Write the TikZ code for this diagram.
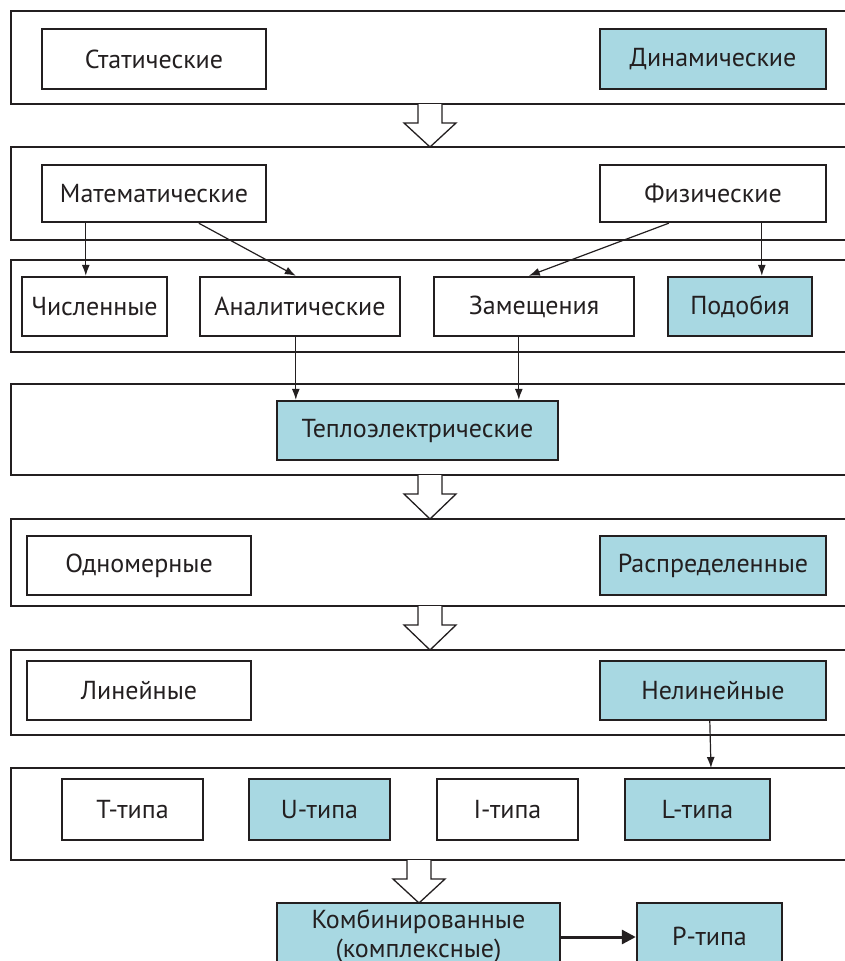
\documentclass[tikz,border=0pt]{standalone}
\usepackage{fontspec}
\setmainfont{PT Sans}
\usetikzlibrary{arrows.meta,calc}
\definecolor{boxblue}{RGB}{168,216,226}
\definecolor{ink}{RGB}{35,31,32}
\tikzset{
  band/.style={draw=ink, line width=1.2pt, anchor=north west, minimum width=849pt, inner sep=0pt, outer sep=0pt},
  box/.style={draw=ink, line width=2.4pt, inner sep=0pt, align=center, font=\fontsize{26pt}{29pt}\selectfont, text=ink},
  bluebox/.style={box, fill=boxblue},
  conn/.style={draw=ink, line width=1.2pt, -{Latex[length=11pt,width=8pt]}},
  hollow/.style={draw=ink, line width=1.3pt, fill=white, line join=miter},
}
\newcommand{\hollowarrow}[3]{%
  \draw[hollow] (#1-12,#2) -- (#1-12,#2+19) -- (#1-26,#2+19) -- (#1,#3) -- (#1+26,#2+19) -- (#1+12,#2+19) -- (#1+12,#2);}
\begin{document}
\begin{tikzpicture}[x=1pt,y=-1pt]
\useasboundingbox (0,0) rectangle (844,961);
% bands
\node[band, minimum height=93pt] (b1) at (11,11) {};
\node[band, minimum height=93pt] (b2) at (11,147) {};
\node[band, minimum height=92pt] (b3) at (11,260) {};
\node[band, minimum height=91pt] (b4) at (11,384) {};
\node[band, minimum height=87pt] (b5) at (11,519) {};
\node[band, minimum height=85pt] (b6) at (11,650) {};
\node[band, minimum height=92pt] (b7) at (11,768) {};
% hollow arrows
\hollowarrow{430}{104}{147}
\hollowarrow{430}{475}{519}
\hollowarrow{430}{606}{650}
\hollowarrow{419}{860}{903}
% boxes
\node[box, minimum width=224pt, minimum height=60pt] (stat) at (154,59) {Статические};
\node[bluebox, minimum width=226pt, minimum height=60pt] (dyn) at (713,59) {Динамические};
\node[box, minimum width=224pt, minimum height=57pt] (mat) at (154,193.5) {Математические};
\node[box, minimum width=226pt, minimum height=57pt] (phys) at (713,193.5) {Физические};
\node[box, minimum width=145pt, minimum height=59pt] (num) at (94.5,306.5) {Численные};
\node[box, minimum width=200pt, minimum height=59pt] (anal) at (300,306.5) {Аналитические};
\node[box, minimum width=200pt, minimum height=59pt] (zam) at (534,306.5) {Замещения};
\node[bluebox, minimum width=144pt, minimum height=59pt] (pod) at (740,306.5) {Подобия};
\node[bluebox, minimum width=281pt, minimum height=59pt] (teplo) at (417.5,430.5) {Теплоэлектрические};
\node[box, minimum width=224pt, minimum height=59pt] (odn) at (139,565.5) {Одномерные};
\node[bluebox, minimum width=226pt, minimum height=59pt] (rasp) at (713,565.5) {Распределенные};
\node[box, minimum width=224pt, minimum height=59pt] (lin) at (139,690.5) {Линейные};
\node[bluebox, minimum width=226pt, minimum height=59pt] (nelin) at (713,690.5) {Нелинейные};
\node[box, minimum width=141pt, minimum height=61pt] (T) at (132.5,809.5) {Т-типа};
\node[bluebox, minimum width=141pt, minimum height=61pt] (U) at (319.5,809.5) {U-типа};
\node[box, minimum width=141pt, minimum height=61pt] (I) at (507.5,809.5) {I-типа};
\node[bluebox, minimum width=145pt, minimum height=61pt] (L) at (697.5,809.5) {L-типа};
\node[bluebox, minimum width=283pt, minimum height=66pt] (komb) at (418.5,936) {Комбинированные\\(комплексные)};
\node[bluebox, minimum width=145pt, minimum height=66pt] (P) at (709.5,936) {Р-типа};
% connectors
\draw[conn] ([xshift=45pt]mat.south west) -- ([xshift=65pt]num.north west);
\draw[conn] ([xshift=158pt]mat.south west) -- ([xshift=97pt]anal.north west);
\draw[conn] ([xshift=70pt]phys.south west) -- ([xshift=96pt]zam.north west);
\draw[conn] ([xshift=163pt]phys.south west) -- ([xshift=95pt]pod.north west);
\draw[conn] ([xshift=97pt]anal.south west) -- ([xshift=20pt]teplo.north west);
\draw[conn] ([xshift=86pt]zam.south west) -- ([xshift=243pt]teplo.north west);
\draw[conn] ([xshift=111pt]nelin.south west) -- ([xshift=700pt]b7.north west);
\draw[draw=ink, line width=3pt, -{Triangle[length=14pt,width=14pt]}] ([yshift=-1pt]komb.east) -- ([yshift=-1pt]P.west);
\end{tikzpicture}
\end{document}
